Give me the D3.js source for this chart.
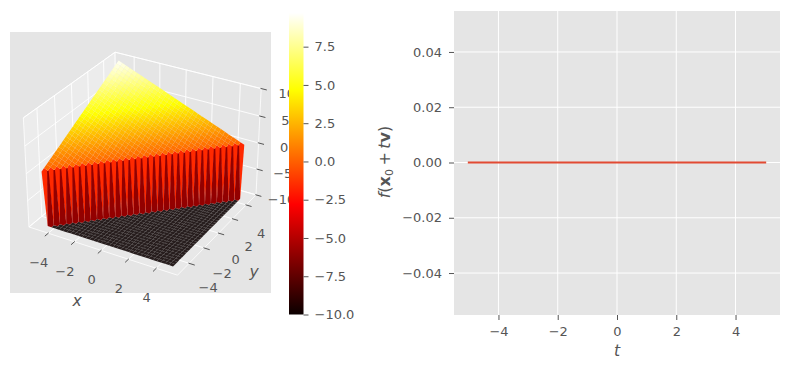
<!DOCTYPE html>
<html>
<head>
<meta charset="utf-8">
<script src="https://cdnjs.cloudflare.com/ajax/libs/d3/7.8.5/d3.min.js"></script>
<style>
  body { margin: 0; background: #fff; }
  text { font-family: "DejaVu Sans", sans-serif; fill: #555555; }
  .tick text { font-size: 13px; }
</style>
</head>
<body>
<div id="chart"></div>
<script>
// surface samples
var gridValues = [-4.8, -4.51, -4.22, -3.93, -3.64, -3.35, -3.05, -2.76, -2.47, -2.18, -1.89, -1.6, -1.31, -1.02, -0.73, -0.44, -0.15,
    0.15, 0.44, 0.73, 1.02, 1.31, 1.6, 1.89, 2.18, 2.47, 2.76, 3.05, 3.35, 3.64, 3.93, 4.22, 4.51, 4.8];
var zLevels = [0, 0.29, 0.58, 0.87, 1.16, 1.45, 1.75, 2.04, 2.33, 2.62, 2.91, 3.2, 3.49, 3.78, 4.07, 4.36, 4.65,
    4.95, 5.24, 5.53, 5.82, 6.11, 6.4, 6.69, 6.98, 7.27, 7.56, 7.85, 8.15, 8.44, 8.73, 9.02, 9.31, 9.6];
var floorValue = -10;
var wallBright = -1.6; // colour level of the bright wall stripes
var wallDark = -6; // colour level of the dark wall stripes

var xyTicks = [-4, -2, 0, 2, 4];
var zTicks = [-10, -5, 0, 5, 10];
var colorbarTicks = [-10, -7.5, -5, -2.5, 0, 2.5, 5, 7.5];
var colorbarDomain = [-10, 9.7];

// hot colormap
var hotStops = [0, 0.365, 0.746, 1];
var hotColors = ["#0b0000", "#ff0000", "#ffff00", "#ffffff"];

// line panel
var tValues = [-5, 5];
var fValues = [0, 0];
var tTicks = [-4, -2, 0, 2, 4];
var fTicks = [-0.04, -0.02, 0, 0.02, 0.04];

var svg = d3.select("#chart").append("svg").attr("width", 790).attr("height", 370).style("display", "block");

var cScale = d3.scaleLinear()
    .domain(hotStops.map(function (s) { return colorbarDomain[0] + s * (colorbarDomain[1] - colorbarDomain[0]); }))
    .range(hotColors);

// Setup 3D view (elev 30, azim -60)
//
var xLim = [-5.5, 5.5], yLim = [-5.5, 5.5], zLim = [-10, 10];
var boxX = d3.scaleLinear().domain(xLim).range([-1, 1]);
var boxY = d3.scaleLinear().domain(yLim).range([-1, 1]);
var boxZ = d3.scaleLinear().domain(zLim).range([-0.74, 0.74]);
var camDist = 15.9;

function camera(p) {
    var X = boxX(p[0]), Y = boxY(p[1]), Z = boxZ(p[2]);
    return {
        u: 0.866 * X + 0.5 * Y,
        v: -0.25 * X + 0.433 * Y + 0.866 * Z,
        w: 0.433 * X - 0.75 * Y + 0.5 * Z
    };
}
var screenX = d3.scaleLinear().domain([-1, 1]).range([144.7 - 85, 144.7 + 85]);
var screenY = d3.scaleLinear().domain([-1, 1]).range([158 + 84, 158 - 84]);

function project(p) {
    var c = camera(p);
    var f = 1 / (1 - c.w / camDist);
    return [screenX(c.u * f), screenY(c.v * f)];
}
function pathOf(points) {
    return "M" + points.map(project).map(function (q) { return q[0].toFixed(2) + "," + q[1].toFixed(2); }).join("L") + "Z";
}

var panel3d = svg.append("g").attr("class", "surface-panel");
panel3d.append("rect").attr("x", 10).attr("y", 32).attr("width", 261).attr("height", 261).attr("fill", "#E5E5E5");

// panes
var x0 = xLim[0], x1 = xLim[1], y0 = yLim[0], y1 = yLim[1], z0 = zLim[0], z1 = zLim[1];
var panes = [
    { pts: [[x0, y0, z0], [x0, y1, z0], [x0, y1, z1], [x0, y0, z1]], fill: "#ececec" },
    { pts: [[x0, y1, z0], [x1, y1, z0], [x1, y1, z1], [x0, y1, z1]], fill: "#e5e5e5" },
    { pts: [[x0, y0, z0], [x1, y0, z0], [x1, y1, z0], [x0, y1, z0]], fill: "#e8e8e8" }
];
panel3d.selectAll("path.pane").data(panes).enter().append("path")
    .attr("class", "pane")
    .attr("d", function (d) { return pathOf(d.pts); })
    .attr("fill", function (d) { return d.fill; })
    .attr("stroke", "#fff").attr("stroke-width", 0.8);

// grid lines run across two panes
var gridLines = [];
xyTicks.forEach(function (t) {
    gridLines.push([[t, y0, z0], [t, y1, z0], [t, y1, z1]]);
    gridLines.push([[x1, t, z0], [x0, t, z0], [x0, t, z1]]);
});
zTicks.forEach(function (t) {
    gridLines.push([[x0, y0, t], [x0, y1, t], [x1, y1, t]]);
});
var line3d = d3.line().x(function (p) { return project(p)[0]; }).y(function (p) { return project(p)[1]; });
panel3d.selectAll("path.grid3d").data(gridLines).enter().append("path")
    .attr("class", "grid3d")
    .attr("d", line3d)
    .attr("fill", "none").attr("stroke", "#fff").attr("stroke-width", 0.9);

// tick marks
var tickMarks = [];
xyTicks.forEach(function (t) {
    tickMarks.push([[t, y0 + 0.05, z0], [t, y0 - 0.4, z0]]);
    tickMarks.push([[x1 - 0.05, t, z0], [x1 + 0.4, t, z0]]);
});
zTicks.forEach(function (t) {
    tickMarks.push([[x1 - 0.05, y1, t], [x1 + 0.4, y1, t]]);
});
panel3d.selectAll("path.tick3d").data(tickMarks).enter().append("path")
    .attr("class", "tick3d")
    .attr("d", line3d)
    .attr("fill", "none").attr("stroke", "#555555").attr("stroke-width", 1);

// surface cells, far ones first. The cell just under the ridge keeps a short
// top edge so its dark stripe has some width at the top of the wall
function zAt(i, j) {
    return j >= i ? zLevels[j - i] : floorValue;
}
var ridgeHalf = 0.035;
var cells = [];
d3.range(gridValues.length - 1).forEach(function (i) {
    d3.range(gridValues.length - 1).forEach(function (j) {
        var corners = [
            [gridValues[i], gridValues[j], zAt(i, j)],
            [gridValues[i + 1], gridValues[j], zAt(i + 1, j)],
            [gridValues[i + 1], gridValues[j + 1], zAt(i + 1, j + 1)],
            [gridValues[i], gridValues[j + 1], zAt(i, j + 1)]
        ];
        var cell = {
            pts: corners,
            z: d3.mean(corners, function (c) { return c[2]; }),
            depth: d3.mean(corners, function (c) { return camera(c).w; })
        };
        if (j === i) {
            cell.z = wallBright;
        } else if (j === i - 1) {
            var apex = gridValues[i];
            cell.pts = [corners[0], corners[1], corners[2],
                [apex + ridgeHalf, apex + ridgeHalf, 0], [apex - ridgeHalf, apex - ridgeHalf, 0]];
            cell.z = wallDark;
            cell.depth = 99; // over the bright stripes
        }
        cells.push(cell);
    });
});
cells.sort(function (a, b) { return a.depth - b.depth; });
panel3d.selectAll("path.cell").data(cells).enter().append("path")
    .attr("class", "cell")
    .attr("d", function (d) { return pathOf(d.pts); })
    .attr("fill", function (d) { return cScale(d.z); })
    .attr("fill-opacity", function (d) { return d.z === floorValue ? 0.88 : 1; });

// 3D tick labels
var intFormat = d3.format("d");
panel3d.selectAll("text.xlab").data(xyTicks).enter().append("text")
    .attr("class", "xlab").attr("font-size", 13).attr("text-anchor", "middle")
    .attr("x", function (t) { return project([t, y0, z0])[0] - 9.5; })
    .attr("y", function (t) { return project([t, y0, z0])[1] + 34; })
    .text(intFormat);
panel3d.selectAll("text.ylab").data(xyTicks).enter().append("text")
    .attr("class", "ylab").attr("font-size", 13).attr("text-anchor", "middle")
    .attr("x", function (t) { return project([x1, t, z0])[0] + 17 - t * 0.5; })
    .attr("y", function (t) { return project([x1, t, z0])[1] + 31 + t * 0.6; })
    .text(intFormat);
panel3d.selectAll("text.zlab").data(zTicks).enter().append("text")
    .attr("class", "zlab").attr("font-size", 13).attr("text-anchor", "middle")
    .attr("x", function (t) { return project([x1, y1, t])[0] + 25.5; })
    .attr("y", function (t) { return project([x1, y1, t])[1] + 9; })
    .text(intFormat);

svg.append("text").attr("x", 77).attr("y", 306).attr("text-anchor", "middle")
    .attr("font-size", 15.6).attr("font-style", "italic").text("x");
svg.append("text").attr("x", 254).attr("y", 277).attr("text-anchor", "middle")
    .attr("font-size", 15.6).attr("font-style", "italic").text("y");

// Setup colorbar
//
var cbarScale = d3.scaleLinear().domain(colorbarDomain).range([314.5, 13]);
var defs = svg.append("defs");
var grad = defs.append("linearGradient").attr("id", "hot").attr("x1", 0).attr("x2", 0).attr("y1", 1).attr("y2", 0);
grad.selectAll("stop").data(hotStops).enter().append("stop")
    .attr("offset", function (s) { return s; })
    .attr("stop-color", function (s, i) { return hotColors[i]; });
svg.append("rect").attr("x", 289).attr("y", 13).attr("width", 14.5).attr("height", 301.5).attr("fill", "url(#hot)");

var cbarAxis = d3.axisRight(cbarScale)
    .tickValues(colorbarTicks)
    .tickSize(5)
    .tickPadding(6)
    .tickFormat(d3.format(".1f"));
svg.append("g").attr("class", "cbar-axis").attr("transform", "translate(303.5,0)").call(cbarAxis);

// Setup line panel
//
var xScale = d3.scaleLinear().domain([-5.5, 5.5]).range([454, 780]);
var yScale = d3.scaleLinear().domain([-0.055, 0.055]).range([314.5, 10.5]);

svg.append("rect").attr("x", 454).attr("y", 11).attr("width", 326).attr("height", 304).attr("fill", "#E5E5E5");

svg.selectAll("line.vgrid").data(tTicks).enter().append("line")
    .attr("class", "vgrid")
    .attr("x1", xScale).attr("x2", xScale).attr("y1", 11).attr("y2", 315)
    .attr("stroke", "#fff").attr("stroke-width", 1);
svg.selectAll("line.hgrid").data(fTicks).enter().append("line")
    .attr("class", "hgrid")
    .attr("x1", 454).attr("x2", 780).attr("y1", yScale).attr("y2", yScale)
    .attr("stroke", "#fff").attr("stroke-width", 1);

svg.append("path")
    .datum(d3.zip(tValues, fValues))
    .attr("d", d3.line()
        .x(function (d) { return xScale(d[0]); })
        .y(function (d) { return yScale(d[1]); }))
    .attr("fill", "none")
    .attr("stroke", "#E24A33")
    .attr("stroke-width", 2)
    .attr("stroke-linecap", "square");

svg.append("g").attr("class", "x-axis").attr("transform", "translate(0,315)")
    .call(d3.axisBottom(xScale).tickValues(tTicks).tickSize(5).tickPadding(7).tickFormat(d3.format("d")));
svg.append("g").attr("class", "y-axis").attr("transform", "translate(454,0)")
    .call(d3.axisLeft(yScale).tickValues(fTicks).tickSize(5).tickPadding(7).tickFormat(d3.format(".2f")));

svg.selectAll(".x-axis .domain, .y-axis .domain, .cbar-axis .domain").remove();
svg.selectAll(".tick line").attr("stroke", "#555555");

svg.append("text").attr("x", 617).attr("y", 356).attr("text-anchor", "middle")
    .attr("font-size", 15.6).attr("font-style", "italic").text("t");

// y label with bold vector parts and a subscript
var yLabel = svg.append("text").attr("transform", "translate(390,162) rotate(-90)")
    .attr("text-anchor", "middle").attr("font-size", 16);
yLabel.append("tspan").attr("font-style", "italic").text("f");
yLabel.append("tspan").text("(");
yLabel.append("tspan").attr("font-weight", "bold").text("x");
yLabel.append("tspan").attr("font-size", 11).attr("dy", 3).text("0");
yLabel.append("tspan").attr("dy", -3).attr("dx", 3.5).text("+");
yLabel.append("tspan").attr("dx", 3.5).attr("font-style", "italic").text("t");
yLabel.append("tspan").attr("font-weight", "bold").text("v");
yLabel.append("tspan").text(")");
</script>
</body>
</html>
